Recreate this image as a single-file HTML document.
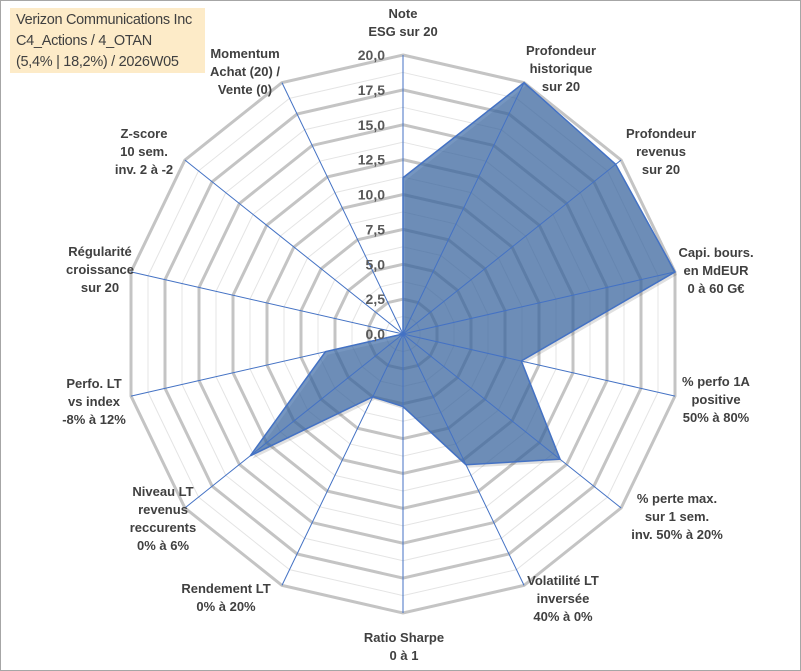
<!DOCTYPE html>
<html><head><meta charset="utf-8"><style>
html,body{margin:0;padding:0;background:#fff;}
body{width:801px;height:671px;overflow:hidden;position:relative;font-family:"Liberation Sans",sans-serif;}
#frame{position:absolute;left:0;top:0;width:799px;height:669px;border:1px solid #a6a6a6;}
svg{position:absolute;left:0;top:0;}
#title{position:absolute;left:10px;top:8px;width:195px;height:65px;background:#fdebc8;color:#404040;font-size:14.5px;line-height:21px;padding-left:6px;box-sizing:border-box;padding-top:2px;letter-spacing:-0.3px;}
</style></head><body>
<div id="frame"></div>
<svg id="chart" width="801" height="671"></svg>
<div id="title">Verizon Communications Inc<br>C4_Actions / 4_OTAN<br>(5,4% | 18,2%) / 2026W05</div>
<script>
const categories=[["Note","ESG sur 20"],["Profondeur","historique","sur 20"],["Profondeur","revenus","sur 20"],["Capi. bours.","en MdEUR","0 à 60 G€"],["% perfo 1A","positive","50% à 80%"],["% perte max.","sur 1 sem.","inv. 50% à 20%"],["Volatilité LT","inversée","40% à 0%"],["Ratio Sharpe","0 à 1"],["Rendement LT","0% à 20%"],["Niveau LT","revenus","reccurents","0% à 6%"],["Perfo. LT","vs index","-8% à 12%"],["Régularité","croissance","sur 20"],["Z-score","10 sem.","inv. 2 à -2"],["Momentum","Achat (20) /","Vente (0)"]];
const values=[11.2,20,19.5,20,8.7,14.4,10.4,5.2,5.0,14.0,5.7,0,0,0];
const tickLabels=["0,0","2,5","5,0","7,5","10,0","12,5","15,0","17,5","20,0"];
const tickValues=[0,2.5,5,7.5,10,12.5,15,17.5,20];
const labelPos=[[403,13],[561,50],[661,133],[716,252],[716,381],[677,498],[563,580],[404,637],[226,588],[163,491],[94,383],[100,251],[144,133],[245,53]];
const cx=403,cy=334,R=279,maxV=20;
const svg=document.getElementById('chart');
const NS='http://www.w3.org/2000/svg';
const n=categories.length;
function ang(i){return i*2*Math.PI/n;}
function pt(i,v){const r=v/maxV*R;return [cx+r*Math.sin(ang(i)),cy-r*Math.cos(ang(i))];}
function ring(v){let s=[];for(let i=0;i<n;i++){s.push(pt(i,v).join(','));}return s.join(' ');}
function mk(t){return document.createElementNS(NS,t);}
for(let k=0;k<tickValues.length-1;k++){
 const v=(tickValues[k]+tickValues[k+1])/2;
 const p=mk('polygon');p.setAttribute('points',ring(v));p.setAttribute('fill','none');p.setAttribute('stroke','#e4e4e4');p.setAttribute('stroke-width','1');
 
 
 svg.appendChild(p);
}
for(let k=1;k<tickValues.length;k++){
 const p=mk('polygon');p.setAttribute('points',ring(tickValues[k]));p.setAttribute('fill','none');p.setAttribute('stroke','#c4c4c4');p.setAttribute('stroke-width','3');
 
 
 svg.appendChild(p);
}
const sp=[];for(let i=0;i<n;i++){sp.push(pt(i,values[i]).join(','));}
const sh=mk('polygon');sh.setAttribute('points',sp.join(' '));sh.setAttribute('fill','rgba(0,0,0,0.12)');sh.setAttribute('transform','translate(2,3)');


svg.appendChild(sh);
const poly=mk('polygon');poly.setAttribute('points',sp.join(' '));poly.setAttribute('fill','rgba(60,105,165,0.7)');poly.setAttribute('stroke','#4472c4');poly.setAttribute('stroke-width','1.5');


svg.appendChild(poly);
for(let i=0;i<n;i++){
 const e=pt(i,maxV);const l=mk('line');l.setAttribute('x1',cx);l.setAttribute('y1',cy);l.setAttribute('x2',e[0]);l.setAttribute('y2',e[1]);l.setAttribute('stroke','#4472c4');l.setAttribute('stroke-width','1');
 
 
 svg.appendChild(l);
}
for(let k=0;k<tickValues.length;k++){
 const t=mk('text');t.setAttribute('x',cx-18);t.setAttribute('y',cy-tickValues[k]/maxV*R+5);t.setAttribute('text-anchor','end');t.setAttribute('font-size','14');t.setAttribute('font-weight','bold');t.setAttribute('fill','#595959');t.setAttribute('font-family','Liberation Sans, sans-serif');t.textContent=tickLabels[k];
 
 
 svg.appendChild(t);
}
for(let i=0;i<n;i++){
 const t=mk('text');t.setAttribute('text-anchor','middle');t.setAttribute('font-size','13');t.setAttribute('font-weight','bold');t.setAttribute('fill','#404040');t.setAttribute('font-family','Liberation Sans, sans-serif');
 
 
 categories[i].forEach((s,j)=>{const ts=mk('tspan');ts.setAttribute('x',labelPos[i][0]);ts.setAttribute('y',labelPos[i][1]+5+j*18);ts.textContent=s;t.appendChild(ts);});
 svg.appendChild(t);
}
</script>
</body></html>
